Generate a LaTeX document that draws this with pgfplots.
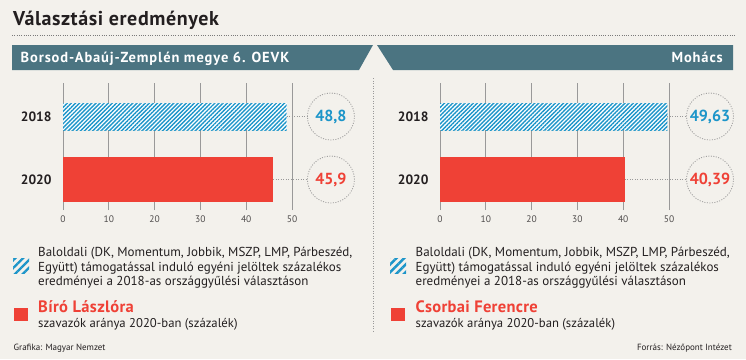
\documentclass[border=0pt]{standalone}
\usepackage{fontspec}
\setmainfont{PT Sans}
\usepackage{pgfplots}
\pgfplotsset{compat=1.18}
\usetikzlibrary{patterns.meta}
\definecolor{bg}{HTML}{F3F1EC}
\definecolor{teal}{HTML}{4B7481}
\definecolor{myred}{HTML}{EF4136}
\definecolor{myblue}{HTML}{1C95C9}
\definecolor{txt}{HTML}{231F20}
\definecolor{gridc}{HTML}{999999}
\newcommand{\fs}[1]{\fontsize{#1}{#1}\selectfont}
\pgfplotsset{
  elec/.style={
    scale only axis, width=229pt, height=127pt,
    anchor=south west,
    xmin=0, xmax=50, ymin=-0.484, ymax=1.532,
    xtick={0,10,...,50}, ytick={0,1}, yticklabels={2020,2018},
    xmajorgrids, grid style={gridc, line width=0.9pt},
    axis line style={draw=none}, major tick length=0pt,
    /pgf/number format/assume math mode=true,
    xticklabel style={font=\fs{9.5}, text=txt!80, yshift=-2pt},
    yticklabel style={font=\bfseries\fs{13.5}, text=txt, xshift=-8pt},
    clip=false,
  },
  hatchbar/.style={xbar, bar width=27pt, draw=none, fill=white,
    postaction={pattern={Lines[angle=45,distance=2.9pt,line width=1.4pt]}, pattern color=myblue}},
  redbar/.style={xbar, bar width=45pt, draw=none, fill=myred},
}
\begin{document}
\begin{tikzpicture}[x=1pt,y=-1pt]
\fill[bg] (0,0) rectangle (746,359);
% title
\node[anchor=base west, inner sep=0, text=txt, font=\bfseries\fs{20}\addfontfeature{LetterSpace=3}] at (13,25.5) {Választási eredmények};
\draw[gridc!80!black, line width=1pt, dash pattern=on 1pt off 1.3pt] (12,35) -- (736,35);
% banners
\fill[teal] (12,45) -- (373,45) -- (359,70) -- (12,70) -- cycle;
\fill[teal] (377,45) -- (733,45) -- (733,70) -- (393,70) -- cycle;
\node[anchor=base west, inner sep=0, text=white, font=\bfseries\fs{14.5}\addfontfeature{LetterSpace=6}] at (20.5,62.5) {Borsod-Abaúj-Zemplén megye 6. OEVK};
\node[anchor=base east, inner sep=0, text=white, font=\bfseries\fs{14.5}\addfontfeature{LetterSpace=6}] at (723,62.5) {Mohács};
% middle separator
\draw[gridc, line width=0.7pt, dash pattern=on 1pt off 1.5pt] (373,78) -- (373,332);

% left chart
\begin{axis}[elec, at={(63pt,-210pt)}]
\addplot[hatchbar] coordinates {(48.8,1)};
\addplot[redbar] coordinates {(45.9,0)};
\draw[gridc, line width=0.8pt, dash pattern=on 1pt off 1.5pt] (axis cs:48.8,1) -- (axis cs:53.4,1);
\draw[gridc, line width=0.8pt, dash pattern=on 1pt off 1.5pt] (axis cs:45.9,0) -- (axis cs:53.4,0);
\draw[gridc, line width=0.8pt, dash pattern=on 1pt off 1.5pt] (axis cs:58.5,1) circle[radius=23.5pt];
\draw[gridc, line width=0.8pt, dash pattern=on 1pt off 1.5pt] (axis cs:58.5,0) circle[radius=23.5pt];
\node[text=myblue, font=\bfseries\fs{16}] at (axis cs:58.5,1) {48,8};
\node[text=myred, font=\bfseries\fs{16}] at (axis cs:58.5,0) {45,9};
\end{axis}

% right chart
\begin{axis}[elec, at={(440pt,-210pt)}]
\addplot[hatchbar] coordinates {(49.63,1)};
\addplot[redbar] coordinates {(40.39,0)};
\draw[gridc, line width=0.8pt, dash pattern=on 1pt off 1.5pt] (axis cs:49.63,1) -- (axis cs:53.8,1);
\draw[gridc, line width=0.8pt, dash pattern=on 1pt off 1.5pt] (axis cs:40.39,0) -- (axis cs:53.8,0);
\draw[gridc, line width=0.8pt, dash pattern=on 1pt off 1.5pt] (axis cs:58.95,1) circle[radius=23.5pt];
\draw[gridc, line width=0.8pt, dash pattern=on 1pt off 1.5pt] (axis cs:58.95,0) circle[radius=23.5pt];
\node[text=myblue, font=\bfseries\fs{16}] at (axis cs:58.95,1) {49,63};
\node[text=myred, font=\bfseries\fs{16}] at (axis cs:58.95,0) {40,39};
\end{axis}

% legends
\foreach \ox/\tx/\name in {0/38/{Bíró Lászlóra}, 377/415.5/{Csorbai Ferencre}} {
  \begin{scope}
    \clip (13+\ox,258) rectangle (29+\ox,273);
    \fill[pattern={Lines[angle=45,distance=5.5pt,line width=2.4pt]}, pattern color=myblue] (13+\ox,258) rectangle (29+\ox,273);
  \end{scope}
  \fill[myred] (14+\ox,308) rectangle (27.5+\ox,321);
  \node[anchor=base west, inner sep=0, text=txt, font=\fs{13}] at (\tx,256) {Baloldali (DK, Momentum, Jobbik, MSZP, LMP, Párbeszéd,};
  \node[anchor=base west, inner sep=0, text=txt, font=\fs{13}] at (\tx,271) {Együtt) támogatással induló egyéni jelöltek százalékos};
  \node[anchor=base west, inner sep=0, text=txt, font=\fs{13}] at (\tx,285.5) {eredményei a 2018-as országgyűlési választáson};
  \node[anchor=base west, inner sep=0, text=myred, font=\bfseries\fs{16.5}\addfontfeature{LetterSpace=2}] at (\tx,312) {\name};
  \node[anchor=base west, inner sep=0, text=txt, font=\fs{12.7}] at (\tx,327) {szavazók aránya 2020-ban (százalék)};
}
\node[anchor=base west, inner sep=0, text=txt, font=\fs{9}] at (13.5,350) {Grafika: Magyar Nemzet};
\node[anchor=base east, inner sep=0, text=txt, font=\fs{9}] at (732,350) {Forrás: Nézőpont Intézet};
\end{tikzpicture}
\end{document}
